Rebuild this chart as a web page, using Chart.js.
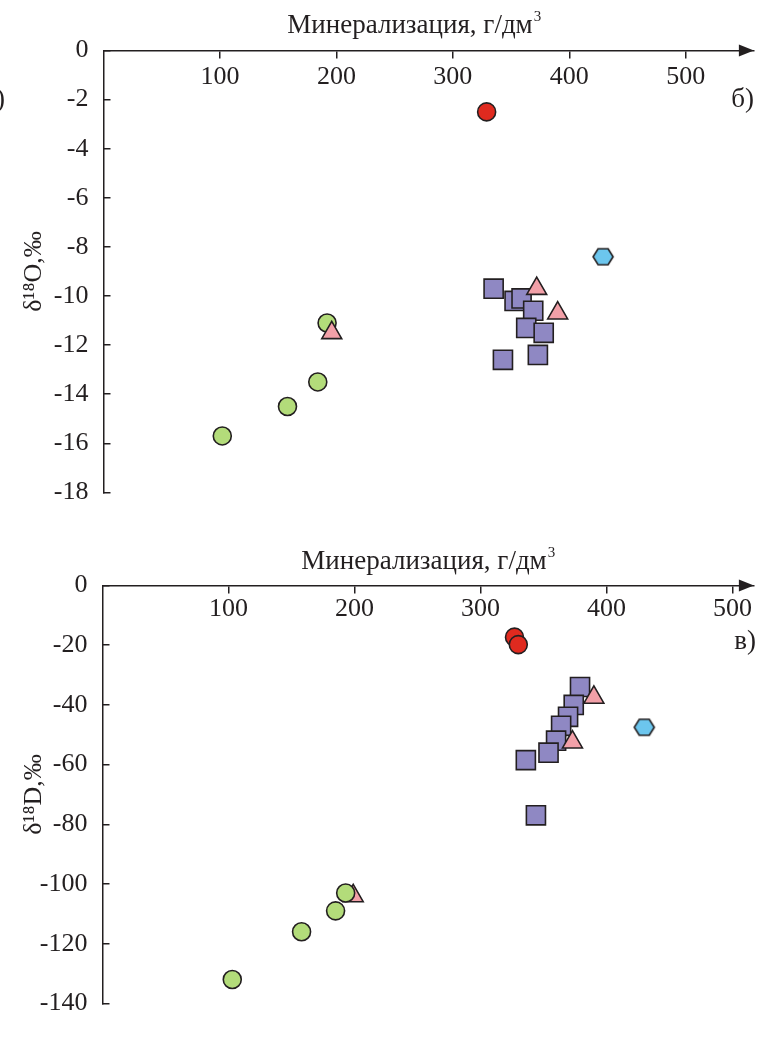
<!DOCTYPE html>
<html>
<head>
<meta charset="utf-8">
<script src="https://cdn.jsdelivr.net/npm/chart.js@4/dist/chart.umd.min.js"></script>
<style>
  html, body { margin: 0; padding: 0; background: #fff; }
  #wrap { position: relative; width: 769px; height: 1041px; }
  canvas { position: absolute; left: 0; }
  #chart-o { top: 0; }
  #chart-d { top: 530px; }
</style>
</head>
<body>
<div id="wrap">
  <canvas id="chart-o" width="769" height="530"></canvas>
  <canvas id="chart-d" width="769" height="511"></canvas>
</div>
<script>
const xTitle = "Минерализация, г/дм";
const xTickValues = [100, 200, 300, 400, 500];

// panel б) — δ18O
const oGreenX = [102, 158, 184, 192];
const oGreenY = [-15.7, -14.5, -13.5, -11.1];
const oRedX = [329];
const oRedY = [-2.5];
const oSquareX = [335, 353, 359, 369, 363, 378, 373, 343];
const oSquareY = [-9.7, -10.2, -10.1, -10.6, -11.3, -11.5, -12.4, -12.6];
const oTriangleX = [196, 372, 390];
const oTriangleY = [-11.5, -9.7, -10.7];
const oHexX = [429];
const oHexY = [-8.4];

// panel в) — δD
const dGreenX = [103, 158, 185, 193];
const dGreenY = [-132, -116, -109, -103];
const dRedX = [327, 330];
const dRedY = [-17.3, -19.8];
const dSquareX = [379, 374, 369.5, 364, 360, 354, 336, 344];
const dSquareY = [-34, -40, -44, -47, -52, -56, -58.5, -77];
const dTriangleX = [199, 390, 373];
const dTriangleY = [-104, -37.5, -52.5];
const dHexX = [430];
const dHexY = [-47.5];

const FONT = "'Liberation Serif', 'Times New Roman', serif";
const INK = "#231f20";
const GREEN = "#b3dc7a";
const RED = "#e02a1f";
const PURPLE = "#8f88c3";
const PINK = "#f2a0a8";
const BLUE = "#6cc6ee";

function hexagon(fill) {
  const c = document.createElement("canvas");
  c.width = 24;
  c.height = 24;
  const ctx = c.getContext("2d");
  ctx.beginPath();
  for (let i = 0; i < 6; i++) {
    const a = Math.PI / 3 * i;
    const px = 12 + 10 * Math.cos(a);
    const py = 12 + 9.2 * Math.sin(a);
    if (i) ctx.lineTo(px, py); else ctx.moveTo(px, py);
  }
  ctx.closePath();
  ctx.fillStyle = fill;
  ctx.fill();
  ctx.lineWidth = 1.6;
  ctx.strokeStyle = INK;
  ctx.stroke();
  return c;
}

function points(xs, ys) {
  return xs.map((x, i) => ({ x, y: ys[i] }));
}

function series(label, xs, ys, style, fill, radius, order) {
  return {
    label,
    data: points(xs, ys),
    pointStyle: style,
    pointRadius: radius,
    pointHoverRadius: radius,
    backgroundColor: fill,
    borderColor: INK,
    borderWidth: 1.6,
    order
  };
}

// arrow head, axis caption with superscript, panel letters
const decor = {
  id: "decor",
  afterDraw(chart, args, opts) {
    const { ctx, chartArea } = chart;
    const y0 = chart.scales.y.getPixelForValue(0);
    ctx.save();
    ctx.fillStyle = INK;
    ctx.beginPath();
    ctx.moveTo(chartArea.right, y0);
    ctx.lineTo(chartArea.right - 15, y0 - 6);
    ctx.lineTo(chartArea.right - 15, y0 + 6);
    ctx.closePath();
    ctx.fill();

    ctx.font = `27px ${FONT}`;
    ctx.textBaseline = "alphabetic";
    ctx.textAlign = "left";
    const w = ctx.measureText(xTitle).width;
    const left = opts.titleX - (w + 8) / 2;
    ctx.fillText(xTitle, left, opts.titleY);
    ctx.font = `15px ${FONT}`;
    ctx.fillText("3", left + w + 1, opts.titleY - 12);

    ctx.font = `27px ${FONT}`;
    ctx.textAlign = "right";
    ctx.fillText(opts.letter, opts.letterX, opts.letterY);
    if (opts.cutLetter) {
      ctx.textAlign = "left";
      ctx.fillText(")", -4, opts.letterY);
    }
    ctx.restore();
  }
};

function makeChart(id, cfg) {
  return new Chart(document.getElementById(id), {
    type: "scatter",
    data: { datasets: cfg.datasets },
    options: {
      responsive: false,
      animation: false,
      events: [],
      layout: { padding: cfg.padding },
      plugins: {
        legend: { display: false },
        tooltip: { enabled: false },
        decor: cfg.decor
      },
      scales: {
        x: {
          type: "linear",
          position: { y: 0 },
          min: 0,
          max: cfg.xMax,
          afterBuildTicks(scale) {
            scale.ticks = xTickValues.map((value) => ({ value }));
          },
          ticks: {
            color: INK,
            font: { family: FONT, size: 26 },
            padding: cfg.xLabelPad,
            maxRotation: 0,
            autoSkip: false
          },
          grid: { drawOnChartArea: false, drawTicks: true, tickLength: 7, color: INK, lineWidth: 1.5 },
          border: { color: INK, width: 1.5 }
        },
        y: {
          type: "linear",
          position: "left",
          min: cfg.yMin,
          max: 0,
          afterFit(scale) {
            scale.width = cfg.axisX;
          },
          ticks: {
            stepSize: cfg.yStep,
            color: INK,
            font: { family: FONT, size: 26 },
            padding: 22,
            callback: (v) => String(v)
          },
          title: {
            display: true,
            text: cfg.yTitle,
            color: INK,
            font: { family: FONT, size: 26 },
            padding: { top: 19, bottom: 0 }
          },
          grid: { drawOnChartArea: false, drawTicks: true, tickLength: -7, color: INK, lineWidth: 1.5 },
          border: { color: INK, width: 1.5 }
        }
      }
    },
    plugins: [decor]
  });
}

makeChart("chart-o", {
  datasets: [
    series("tri", oTriangleX, oTriangleY, "triangle", PINK, 11.5, 0),
    series("green", oGreenX, oGreenY, "circle", GREEN, 9, 1),
    series("red", oRedX, oRedY, "circle", RED, 9, 2),
    series("square", oSquareX, oSquareY, "rect", PURPLE, 13.5, 3),
    series("hex", oHexX, oHexY, hexagon(BLUE), BLUE, 10, 4)
  ],
  padding: { left: 0, top: 50.5, right: 12, bottom: 37.3 },
  xMax: 558.5,
  xLabelPad: 4,
  yMin: -18,
  yStep: 2,
  axisX: 103.5,
  yTitle: "δ¹⁸O,‰",
  decor: { titleX: 414, titleY: 33, letter: "б)", letterX: 754, letterY: 107, cutLetter: true }
});

makeChart("chart-d", {
  datasets: [
    series("green", dGreenX, dGreenY, "circle", GREEN, 9, 0),
    series("tri", dTriangleX, dTriangleY, "triangle", PINK, 11.5, 1),
    series("red", dRedX, dRedY, "circle", RED, 9, 2),
    series("square", dSquareX, dSquareY, "rect", PURPLE, 13.5, 3),
    series("hex", dHexX, dHexY, hexagon(BLUE), BLUE, 10, 4)
  ],
  padding: { left: 0, top: 55.5, right: 11, bottom: 16.7 },
  xMax: 517,
  xLabelPad: 1,
  yMin: -140,
  yStep: 20,
  axisX: 102.5,
  yTitle: "δ¹⁸D,‰",
  decor: { titleX: 428, titleY: 39, letter: "в)", letterX: 756, letterY: 119, cutLetter: false }
});
</script>
</body>
</html>
